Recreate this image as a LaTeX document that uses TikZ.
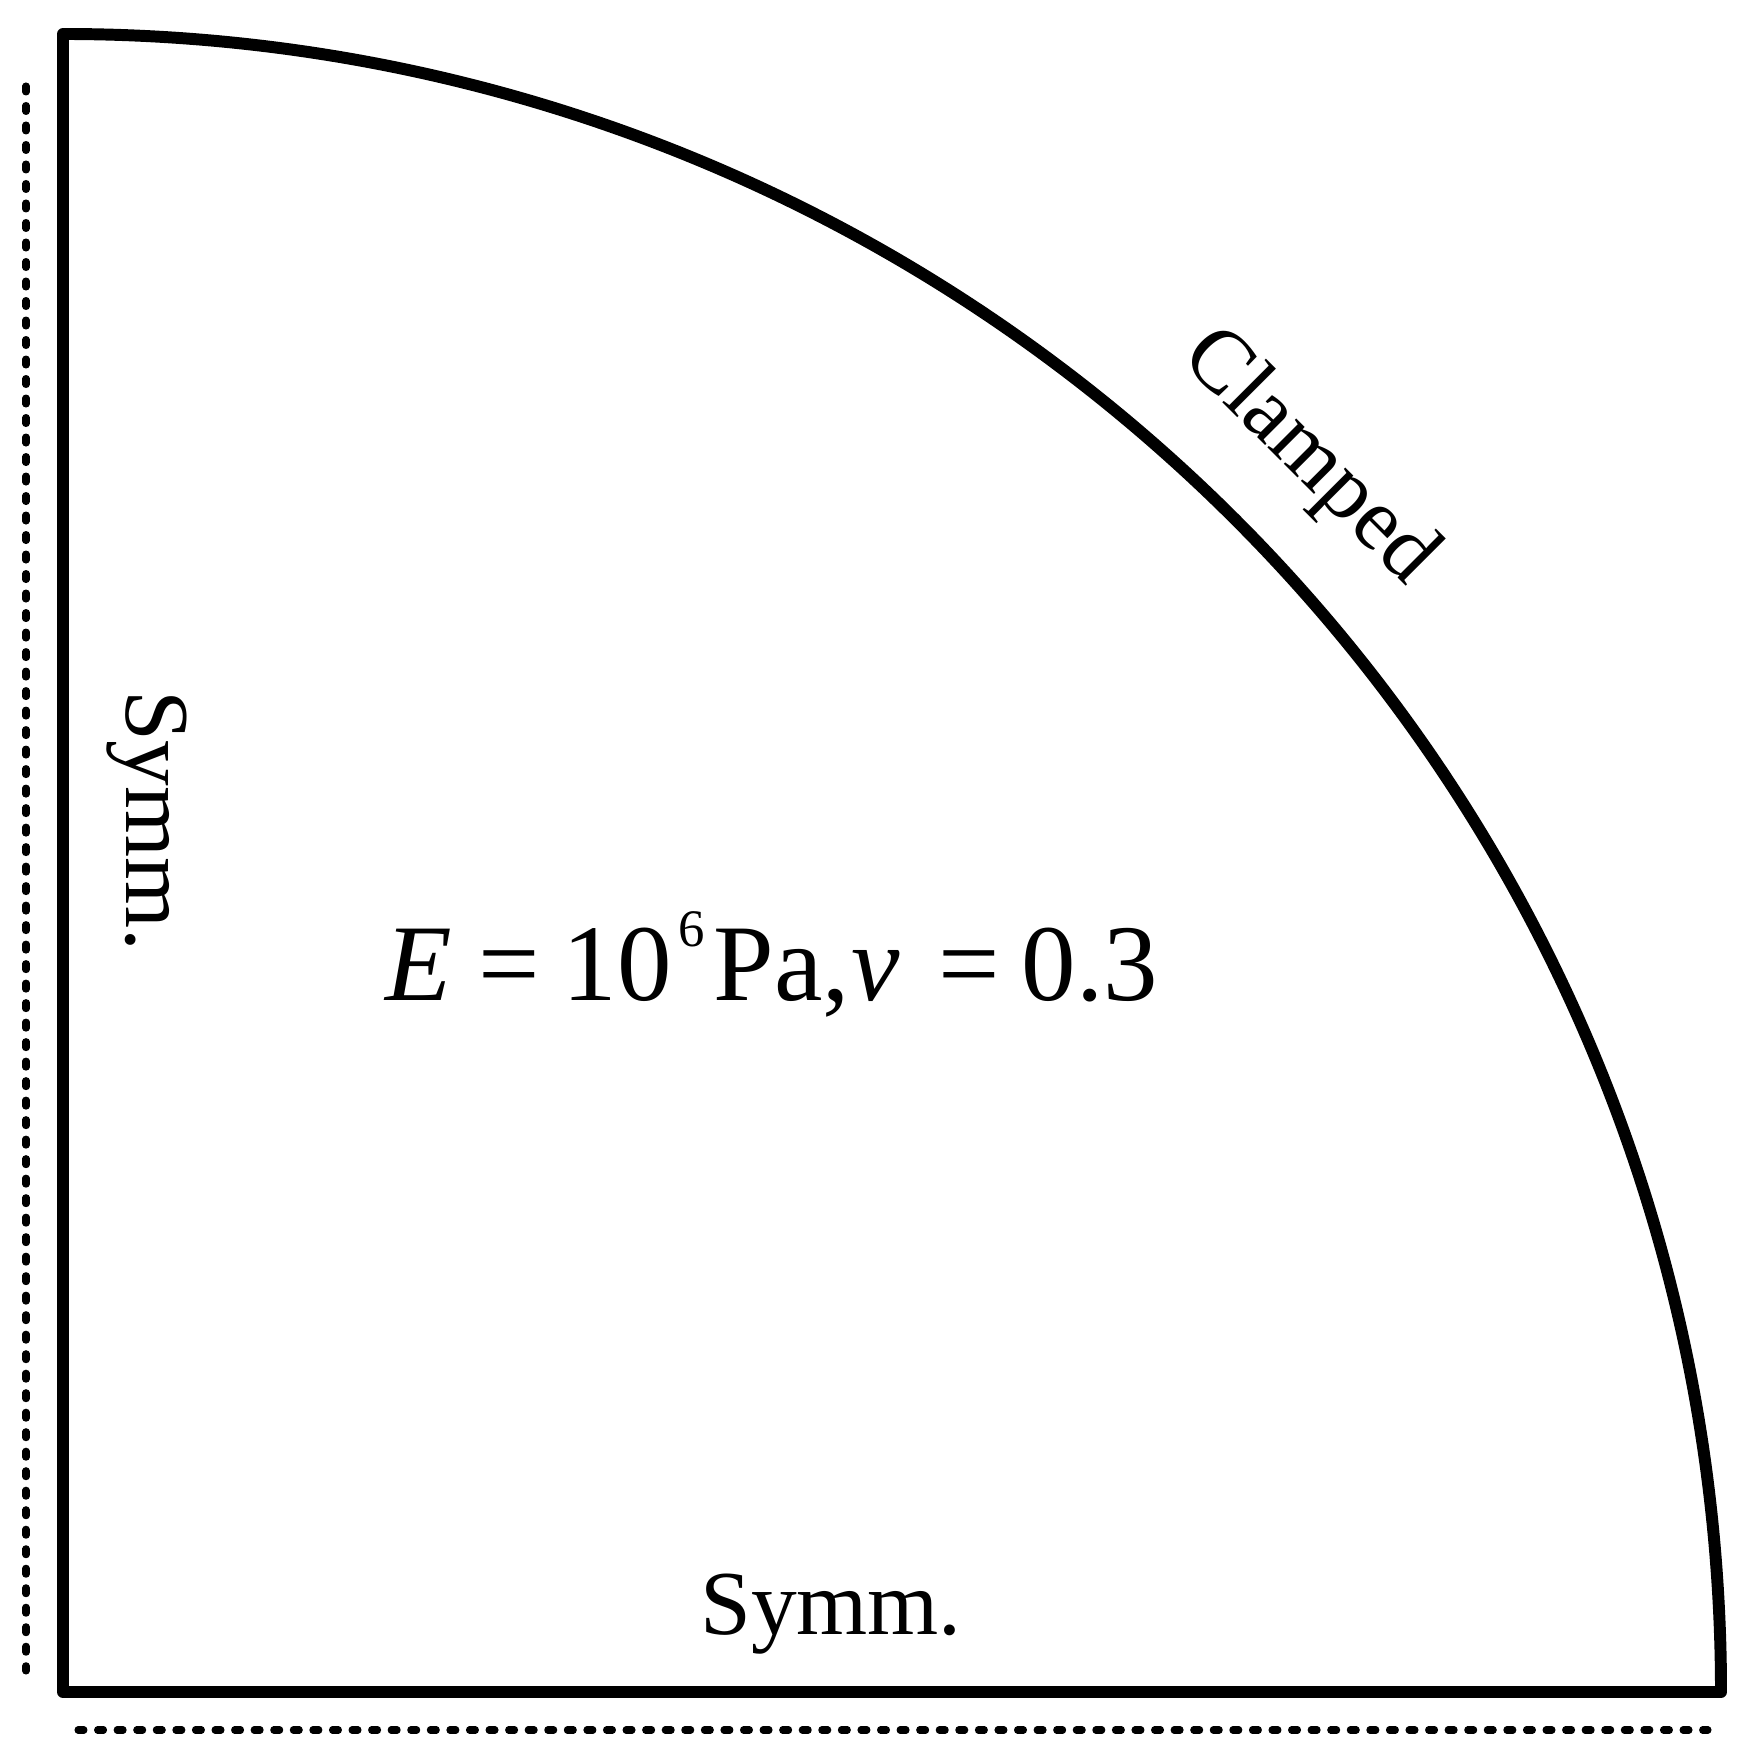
\documentclass[tikz,border=0pt]{standalone}
\usepackage{fontspec}
\setmainfont{Liberation Serif}
\tikzset{
  plate/.style={line width=3.4pt, line join=round},
  symline/.style={line width=2pt, line cap=round},
  lab/.style={inner sep=0pt, font=\fontsize{26pt}{30pt}\selectfont},
  eqlab/.style={inner sep=0pt, font=\fontsize{31pt}{36pt}\selectfont}
}
\begin{document}
\begin{tikzpicture}[x=0.01cm,y=0.01cm]
\useasboundingbox (0,0) rectangle (1745,1757);
% plate
\coordinate (O) at (63,65);
\coordinate (T) at (63,1723);
\draw[plate] (O) -- (T) arc[start angle=90, end angle=0, radius=1658] -- cycle;
% symmetry lines
\coordinate (l1) at (26,1671);
\coordinate (l2) at (26,86);
\draw[symline, dash pattern=on 1.7pt off 3.846pt] (l1) -- (l2);
\coordinate (b1) at (78,27);
\coordinate (b2) at (1708,27);
\draw[symline, dash pattern=on 1.7pt off 3.866pt] (b1) -- (b2);
% labels
\node[lab, font=\fontsize{25.3pt}{30pt}\selectfont, anchor=base, rotate=-45] (clamp) at (1293,1284) {Clamped};
\node[lab, anchor=base, rotate=-90] (symL) at (127,936) {Symm.};
\node[lab, anchor=base] (symB) at (831,122) {Symm.};
\node[eqlab, anchor=base west] (eq) at (385,756) {\textit{E}\hspace{7.5pt}=\hspace{6.4pt}10\hspace{2pt}\raisebox{15.4pt}{\fontsize{15pt}{15pt}\selectfont 6}\hspace{2.5pt}Pa,\hspace{0.5pt}\textit{v}\hspace{11pt}=\hspace{6pt}0.3};
\end{tikzpicture}
\end{document}
